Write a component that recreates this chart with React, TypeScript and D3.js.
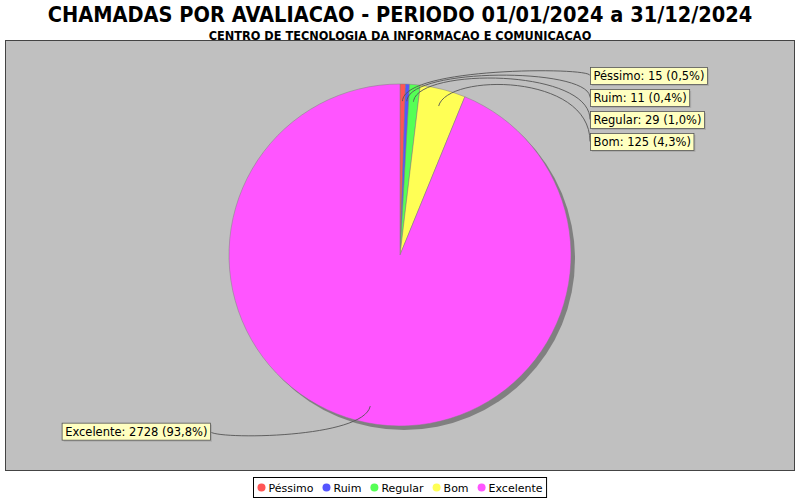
import React, { useEffect, useRef } from "react";
import * as d3 from "d3";

const categories = ["Péssimo", "Ruim", "Regular", "Bom", "Excelente"];
const values = [15, 11, 29, 125, 2728];
const colors = ["#FF5555", "#5555FF", "#55FF55", "#FFFF55", "#FF55FF"];
const title = "CHAMADAS POR AVALIACAO - PERIODO 01/01/2024 a 31/12/2024";
const subtitle = "CENTRO DE TECNOLOGIA DA INFORMACAO E COMUNICACAO";

const W = 800;
const H = 500;
const plot = { x: 5.5, y: 40.5, w: 789, h: 430 };
const cx = 400;
const cy = 255;
const R = 171;
const titleFont = "'DejaVu Sans', sans-serif";
const labelFont = "'DejaVu Sans', sans-serif";

export default function App() {
  const ref = useRef<SVGSVGElement>(null);
  useEffect(() => {
    const svg = d3.select(ref.current);
    svg.selectAll("*").remove();
    svg.append("rect").attr("width", W).attr("height", H).attr("fill", "#fff");

    const fitText = (txt: string, y: number, size: number, width: number) => {
      const gT = svg.append("g");
      const t = gT.append("text").attr("x", 0).attr("y", 0).attr("text-anchor", "middle")
        .style("font-family", titleFont).style("font-weight", "bold")
        .style("font-size", `${size}px`).attr("fill", "#000").text(txt);
      const w = (t.node() as SVGTextElement).getComputedTextLength();
      gT.attr("transform", `translate(${W / 2},${y}) scale(${width / w},1)`);
    };
    fitText(title, 22, 22, 705);
    fitText(subtitle, 40, 12.5, 383);

    svg.append("rect").attr("x", plot.x).attr("y", plot.y).attr("width", plot.w).attr("height", plot.h)
      .attr("fill", "#C0C0C0").attr("stroke", "#444").attr("stroke-width", 1);

    const data = categories.map((c, i) => ({ name: c, value: values[i], color: colors[i] }));
    const total = d3.sum(values);
    const pie = d3.pie<any>().sort(null).value((d: any) => d.value);
    const arcs = pie(data);
    const arc = d3.arc<any>().innerRadius(0).outerRadius(R);

    // shadow
    svg.append("circle").attr("cx", cx + 4).attr("cy", cy + 4).attr("r", R).attr("fill", "#808080");
    const g = svg.append("g").attr("transform", `translate(${cx},${cy})`);
    g.selectAll("path").data(arcs).enter().append("path")
      .attr("d", arc as any).attr("fill", (d: any) => d.data.color)
      .attr("stroke", "#808080").attr("stroke-width", 0.5);

    const fmt = (v: number) => d3.format(".1f")((v / total) * 100).replace(".", ",");
    const labels = arcs.map((a: any) => {
      const mid = (a.startAngle + a.endAngle) / 2;
      return {
        mid,
        right: Math.sin(mid) >= 0,
        text: `${a.data.name}: ${a.data.value} (${fmt(a.data.value)}%)`,
        ideal: cy - Math.cos(mid) * R * 1.05,
        y: 0,
      };
    });
    const spacing = 22;
    const right = labels.filter((l) => l.right).sort((a, b) => a.ideal - b.ideal);
    let prev = -Infinity;
    right.forEach((l) => { l.y = Math.max(l.ideal, prev + spacing); prev = l.y; });
    const left = labels.filter((l) => !l.right).sort((a, b) => b.ideal - a.ideal);
    prev = Infinity;
    left.forEach((l) => { l.y = Math.min(l.ideal, prev - spacing); prev = l.y; });

    const labelGap = 190;
    labels.forEach((l) => {
      const sx = cx + Math.sin(l.mid) * R * 0.9;
      const sy = cy - Math.cos(l.mid) * R * 0.9;
      const ex = cx + Math.sin(l.mid) * R * 1.1;
      const ey = cy - Math.cos(l.mid) * R * 1.1;
      const tx = l.right ? cx + labelGap : cx - labelGap;
      const path = d3.path();
      path.moveTo(sx, sy);
      path.bezierCurveTo(ex, ey, tx, ey, tx, l.y);
      svg.append("path").attr("d", path.toString()).attr("fill", "none")
        .attr("stroke", "#555").attr("stroke-width", 0.9);
    });

    labels.forEach((l) => {
      const tg = svg.append("g");
      const t = tg.append("text").style("font-family", labelFont).style("font-size", "11.5px")
        .attr("fill", "#000").text(l.text);
      const tw = (t.node() as SVGTextElement).getComputedTextLength();
      const bw = tw + 6;
      const bh = 17;
      const bx = l.right ? cx + labelGap : cx - labelGap - bw;
      const by = l.y - bh / 2;
      tg.insert("rect", "text").attr("x", bx + 2).attr("y", by + 2).attr("width", bw).attr("height", bh)
        .attr("fill", "#979797").attr("opacity", 0.5);
      tg.insert("rect", "text").attr("x", bx + 0.5).attr("y", by + 0.5).attr("width", bw).attr("height", bh)
        .attr("fill", "#FFFFC0").attr("stroke", "#555").attr("stroke-width", 0.8);
      t.attr("x", bx + 3.5).attr("y", by + 13);
    });

    // legend
    const lg = svg.append("g");
    let x = 0;
    const items: any[] = [];
    data.forEach((d) => {
      const it = lg.append("g");
      it.append("circle").attr("cx", x + 4).attr("cy", 0).attr("r", 4).attr("fill", d.color);
      const t = it.append("text").attr("x", x + 11).attr("y", 4).style("font-family", labelFont)
        .style("font-size", "11px").attr("fill", "#000").text(d.name);
      const tw = (t.node() as SVGTextElement).getComputedTextLength();
      items.push(it);
      x += 11 + tw + 9;
    });
    const lw = x - 9;
    const boxW = lw + 8;
    const bx = Math.round(W / 2 - boxW / 2) + 0.5;
    lg.insert("rect", "g").attr("x", bx).attr("y", 477.5).attr("width", boxW).attr("height", 20)
      .attr("fill", "#fff").attr("stroke", "#000").attr("stroke-width", 1);
    items.forEach((it) => it.attr("transform", `translate(${bx + 4},487.5)`));
  }, []);

  return (
    <svg ref={ref} width={W} height={H}
      style={{ position: "fixed", left: 0, top: 0, display: "block" }} />
  );
}
